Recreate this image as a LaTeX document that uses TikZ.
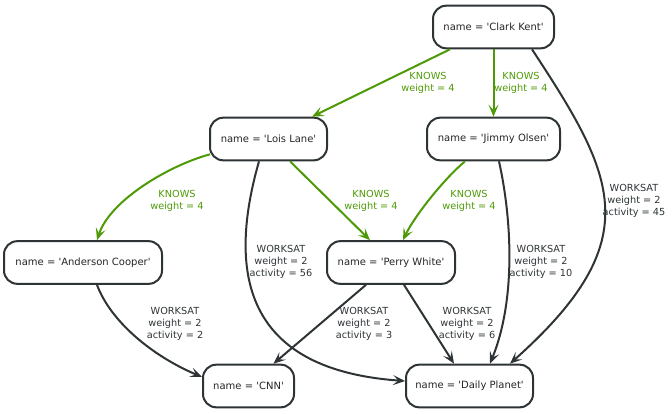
\documentclass[tikz,border=0pt]{standalone}
\usepackage{fontspec}
\setmainfont{DejaVu Sans}[Ligatures=TeXOff]
\usetikzlibrary{arrows.meta,calc}
\definecolor{edgegray}{HTML}{2E3436}
\definecolor{knowgreen}{HTML}{4E9A06}
\tikzset{
  person/.style={draw=edgegray, line width=1.5pt, rounded corners=10pt, fill=white,
    inner sep=0pt, minimum height=32pt, font=\fontsize{7.5}{9}\selectfont, text=black!85},
  rel/.style={line width=1.5pt, -{Stealth[length=9pt,width=7.5pt,inset=4pt]}},
  knows/.style={rel, draw=knowgreen},
  works/.style={rel, draw=edgegray},
  lbl/.style={align=center, inner sep=0pt, font=\fontsize{7.3}{9}\selectfont},
  klbl/.style={lbl, text=knowgreen},
  wlbl/.style={lbl, text=edgegray}
}
\begin{document}
\begin{tikzpicture}[x=0.75pt,y=-0.75pt]
\useasboundingbox (0,0) rectangle (672,414);
% nodes
\node[person, minimum width=90.75pt] (clark) at (493.5,27) {name = 'Clark Kent'};
\node[person, minimum width=87.75pt] (lois) at (268.5,139) {name = 'Lois Lane'};
\node[person, minimum width=99.75pt] (jimmy) at (493.5,139) {name = 'Jimmy Olsen'};
\node[person, minimum width=118.5pt] (anderson) at (83,262.5) {name = 'Anderson Cooper'};
\node[person, minimum width=96pt] (perry) at (391,262.5) {name = 'Perry White'};
\node[person, minimum width=68.25pt] (cnn) at (248.5,386) {name = 'CNN'};
\node[person, minimum width=95.25pt] (dp) at (469.5,386) {name = 'Daily Planet'};
% edges
\draw[knows] ($(clark.south)+(-43.5,0)$) -- ($(lois.north)+(43.5,0)$);
\draw[knows] (clark.south) -- (jimmy.north);
\draw[works] ($(clark.south)+(38.5,0)$) .. controls (616,177) and (649,240) .. ($(dp.north)+(40.5,0)$);
\draw[knows] ($(lois.south west)+(1,-7)$) .. controls (170,165) and (110,200) .. ($(anderson.north)+(14,0)$);
\draw[knows] ($(lois.south)+(21.5,0)$) -- ($(perry.north)+(-21,0)$);
\draw[works] ($(lois.south)+(-9.5,0)$) .. controls (225,280) and (250,370) .. ($(dp.west)+(0,-5)$);
\draw[knows] ($(jimmy.south)+(-28.5,0)$) .. controls (445,178) and (415,215) .. ($(perry.north)+(12,0)$);
\draw[works] ($(jimmy.south)+(5.5,0)$) .. controls (512,220) and (516,300) .. ($(dp.north)+(20.5,0)$);
\draw[works] ($(anderson.south)+(14,0)$) .. controls (110,320) and (150,355) .. ($(cnn.west)+(0,-9)$);
\draw[works] ($(perry.south)+(-25,0)$) -- ($(cnn.north)+(25,0)$);
\draw[works] ($(perry.south)+(13,0)$) -- ($(dp.north)+(-15.5,0)$);
% labels
\node[klbl] (l1) at (428,82.5) {KNOWS\\weight = 4};
\node[klbl] (l2) at (521,82.5) {KNOWS\\weight = 4};
\node[wlbl] (l3) at (634,200.5) {WORKSAT\\weight = 2\\activity = 45};
\node[klbl] (l4) at (177,200.5) {KNOWS\\weight = 4};
\node[klbl] (l5) at (371,200.5) {KNOWS\\weight = 4};
\node[wlbl] (l6) at (281,262) {WORKSAT\\weight = 2\\activity = 56};
\node[klbl] (l7) at (469,200.5) {KNOWS\\weight = 4};
\node[wlbl] (l8) at (541,262) {WORKSAT\\weight = 2\\activity = 10};
\node[wlbl] (l9) at (175,324) {WORKSAT\\weight = 2\\activity = 2};
\node[wlbl] (l10) at (364,324) {WORKSAT\\weight = 2\\activity = 3};
\node[wlbl] (l11) at (467,324) {WORKSAT\\weight = 2\\activity = 6};
\end{tikzpicture}
\end{document}
